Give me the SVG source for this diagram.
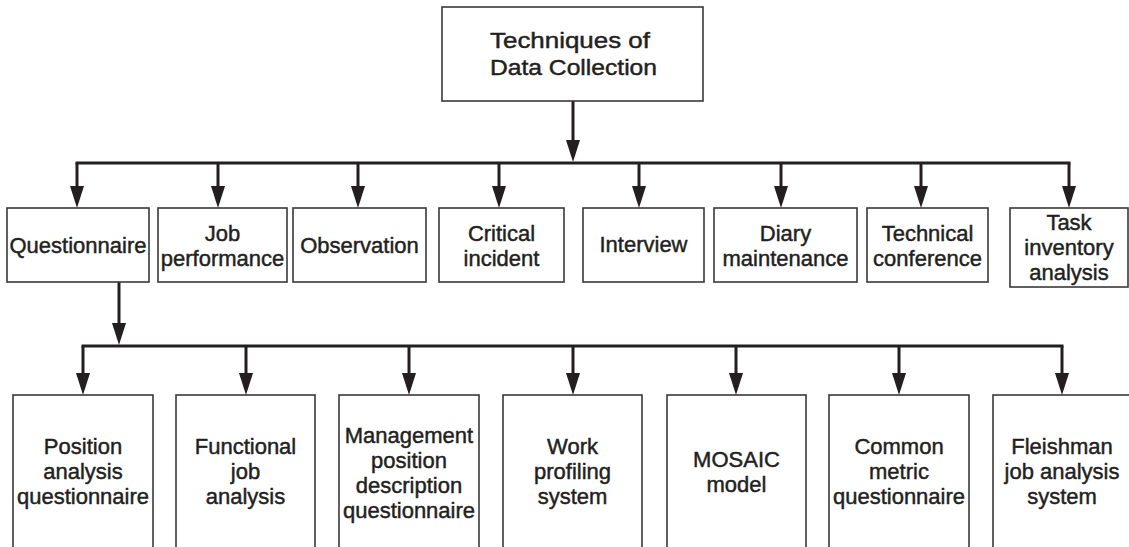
<svg xmlns="http://www.w3.org/2000/svg" width="1129" height="547" viewBox="0 0 1129 547">
  <style>
    .box { fill: #ffffff; stroke: #3a3738; stroke-width: 1.6; }
    .lbl { font-family: "Liberation Sans", Arial, sans-serif; font-size: 22px; fill: #231f20; stroke: #231f20; stroke-width: 0.45; text-anchor: middle; }
    .wire { stroke: #231f20; stroke-width: 3; fill: none; }
    .drop { stroke: #231f20; stroke-width: 3; fill: none; marker-end: url(#head); }
  </style>
  <defs>
    <marker id="head" viewBox="0 0 22 14" refX="12" refY="7" markerWidth="22" markerHeight="14" markerUnits="userSpaceOnUse" orient="auto">
      <path d="M0,0 L22,7 L0,14 z" fill="#231f20"/>
    </marker>
  </defs>

  <rect width="1129" height="547" fill="#ffffff"/>

  <!-- connectors -->
  <g id="connectors">
    <line class="drop" x1="573" y1="101" x2="573" y2="152"/>
    <line class="wire" x1="75.5" y1="163" x2="1070.5" y2="163"/>
    <line class="drop" x1="77" y1="163" x2="77" y2="198"/>
    <line class="drop" x1="218" y1="163" x2="218" y2="198"/>
    <line class="drop" x1="358" y1="163" x2="358" y2="198"/>
    <line class="drop" x1="499" y1="163" x2="499" y2="198"/>
    <line class="drop" x1="639" y1="163" x2="639" y2="198"/>
    <line class="drop" x1="781" y1="163" x2="781" y2="198"/>
    <line class="drop" x1="921" y1="163" x2="921" y2="198"/>
    <line class="drop" x1="1069" y1="163" x2="1069" y2="198"/>

    <line class="drop" x1="119" y1="282" x2="119" y2="335"/>
    <line class="wire" x1="81.5" y1="346" x2="1063.5" y2="346"/>
    <line class="drop" x1="83" y1="346" x2="83" y2="385"/>
    <line class="drop" x1="246" y1="346" x2="246" y2="385"/>
    <line class="drop" x1="409" y1="346" x2="409" y2="385"/>
    <line class="drop" x1="573" y1="346" x2="573" y2="385"/>
    <line class="drop" x1="736" y1="346" x2="736" y2="385"/>
    <line class="drop" x1="899" y1="346" x2="899" y2="385"/>
    <line class="drop" x1="1062" y1="346" x2="1062" y2="385"/>
  </g>

  <!-- root -->
  <g id="root">
    <rect class="box" x="442" y="7" width="261" height="94"/>
    <text class="lbl" x="570" y="48" textLength="160" lengthAdjust="spacingAndGlyphs">Techniques of</text>
    <text class="lbl" x="573.5" y="75" textLength="167" lengthAdjust="spacingAndGlyphs">Data Collection</text>
  </g>

  <!-- first level -->
  <g id="questionnaire">
    <rect class="box" x="7" y="208" width="142" height="74"/>
    <text class="lbl" x="78" y="253">Questionnaire</text>
  </g>
  <g id="job-performance">
    <rect class="box" x="158" y="208" width="129" height="74"/>
    <text class="lbl" x="222.5" y="241">Job</text>
    <text class="lbl" x="222.5" y="266">performance</text>
  </g>
  <g id="observation">
    <rect class="box" x="293" y="208" width="133" height="74"/>
    <text class="lbl" x="359.5" y="253">Observation</text>
  </g>
  <g id="critical-incident">
    <rect class="box" x="439" y="208" width="125" height="74"/>
    <text class="lbl" x="501.5" y="241">Critical</text>
    <text class="lbl" x="501.5" y="266">incident</text>
  </g>
  <g id="interview">
    <rect class="box" x="583" y="208" width="121" height="74"/>
    <text class="lbl" x="643.5" y="252">Interview</text>
  </g>
  <g id="diary-maintenance">
    <rect class="box" x="714" y="208" width="143" height="74"/>
    <text class="lbl" x="785.5" y="241">Diary</text>
    <text class="lbl" x="785.5" y="266">maintenance</text>
  </g>
  <g id="technical-conference">
    <rect class="box" x="867" y="208" width="121" height="74"/>
    <text class="lbl" x="927.5" y="241">Technical</text>
    <text class="lbl" x="927.5" y="266">conference</text>
  </g>
  <g id="task-inventory">
    <rect class="box" x="1010" y="208" width="118" height="79"/>
    <text class="lbl" x="1069" y="230">Task</text>
    <text class="lbl" x="1069" y="255">inventory</text>
    <text class="lbl" x="1069" y="280">analysis</text>
  </g>

  <!-- questionnaire instruments -->
  <g id="paq">
    <rect class="box" x="13" y="395" width="140" height="160"/>
    <text class="lbl" x="83" y="454">Position</text>
    <text class="lbl" x="83" y="479">analysis</text>
    <text class="lbl" x="83" y="504">questionnaire</text>
  </g>
  <g id="fja">
    <rect class="box" x="176" y="395" width="139" height="160"/>
    <text class="lbl" x="245.5" y="454">Functional</text>
    <text class="lbl" x="245.5" y="479">job</text>
    <text class="lbl" x="245.5" y="504">analysis</text>
  </g>
  <g id="mpdq">
    <rect class="box" x="339" y="395" width="140" height="160"/>
    <text class="lbl" x="409" y="443">Management</text>
    <text class="lbl" x="409" y="468">position</text>
    <text class="lbl" x="409" y="493">description</text>
    <text class="lbl" x="409" y="518">questionnaire</text>
  </g>
  <g id="wps">
    <rect class="box" x="503" y="395" width="139" height="160"/>
    <text class="lbl" x="572.5" y="454">Work</text>
    <text class="lbl" x="572.5" y="479">profiling</text>
    <text class="lbl" x="572.5" y="504">system</text>
  </g>
  <g id="mosaic">
    <rect class="box" x="667" y="395" width="139" height="160"/>
    <text class="lbl" x="736.5" y="467">MOSAIC</text>
    <text class="lbl" x="736.5" y="492">model</text>
  </g>
  <g id="cmq">
    <rect class="box" x="829" y="395" width="140" height="160"/>
    <text class="lbl" x="899" y="454">Common</text>
    <text class="lbl" x="899" y="479">metric</text>
    <text class="lbl" x="899" y="504">questionnaire</text>
  </g>
  <g id="fjas">
    <rect class="box" x="993" y="395" width="140" height="160"/>
    <text class="lbl" x="1062" y="454">Fleishman</text>
    <text class="lbl" x="1062" y="479">job analysis</text>
    <text class="lbl" x="1062" y="504">system</text>
  </g>
</svg>
